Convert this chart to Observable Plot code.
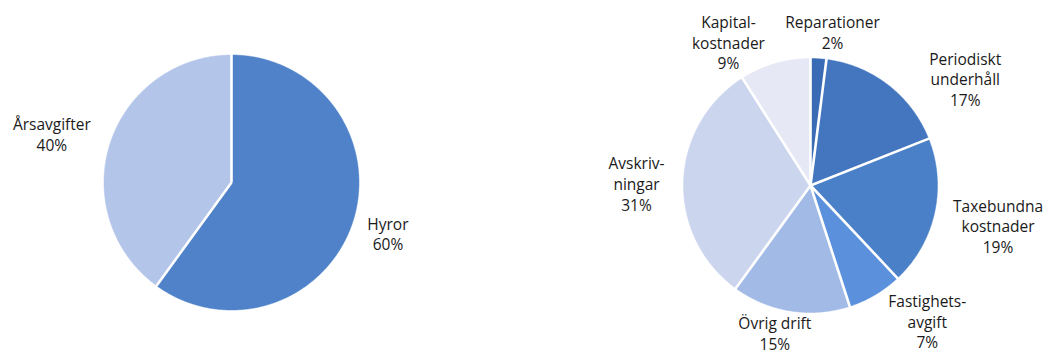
<!DOCTYPE html>
<html>
<head>
<meta charset="utf-8">
<script src="https://cdn.jsdelivr.net/npm/d3@7"></script>
<script src="https://cdn.jsdelivr.net/npm/@observablehq/plot@0.6"></script>
<style>
  html, body { margin: 0; padding: 0; background: #fff; }
  #chart svg { display: block; }
</style>
</head>
<body>
<div id="chart"></div>
<script>
// ---- Data ----
const incomeCategories = ["Hyror", "Årsavgifter"];
const incomeLabels = ["Hyror\n60%", "Årsavgifter\n40%"];
const incomeValues = [60, 40];
const incomeColors = ["#4f82c8", "#b4c5ea"];

const costCategories = ["Reparationer", "Periodiskt underhåll", "Taxebundna kostnader", "Fastighetsavgift", "Övrig drift", "Avskrivningar", "Kapitalkostnader"];
const costLabels = ["Reparationer\n2%", "Periodiskt\nunderhåll\n17%", "Taxebundna\nkostnader\n19%", "Fastighets-\navgift\n7%", "Övrig drift\n15%", "Avskriv-\nningar\n31%", "Kapital-\nkostnader\n9%"];
const costValues = [2, 17, 19, 7, 15, 31, 9];
const costColors = ["#3a6cb6", "#4476bf", "#4a80c8", "#5a90dc", "#a2bae6", "#cbd5ee", "#e6e9f5"];

// ---- Layout (label placement: angle in degrees clockwise from top, distance in radii) ----
const W = 1045, H = 356;
const pies = [
  {cx: 231, cy: 182, r: 127.5, cats: incomeCategories, labels: incomeLabels, values: incomeValues, colors: incomeColors,
   labelPos: [[108, 1.29], [285.2, 1.46]]},
  {cx: 810, cy: 185, r: 127, cats: costCategories, labels: costLabels, values: costValues, colors: costColors,
   labelPos: [[8.2, 1.22], [55.4, 1.48], [102.1, 1.51], [139.3, 1.41], [193.6, 1.195], [270.7, 1.37], [330.2, 1.30]]}
];

const polyPts = [], seps = [], labelRows = [];
const domain = [], range = [];
for (const p of pies) {
  const arcs = d3.pie().sort(null).value(d => d)(p.values);
  arcs.forEach((a, i) => {
    const name = p.cats[i];
    domain.push(name); range.push(p.colors[i]);
    polyPts.push({name, x: p.cx, y: p.cy});
    const n = Math.max(2, Math.ceil((a.endAngle - a.startAngle) / 0.01));
    for (let k = 0; k <= n; k++) {
      const t = a.startAngle + (a.endAngle - a.startAngle) * k / n;
      polyPts.push({name, x: p.cx + p.r * Math.sin(t), y: p.cy - p.r * Math.cos(t)});
    }
    polyPts.push({name, x: p.cx, y: p.cy});
    seps.push({x1: p.cx, y1: p.cy, x2: p.cx + (p.r + 1) * Math.sin(a.startAngle), y2: p.cy - (p.r + 1) * Math.cos(a.startAngle)});
    const [ang, f] = p.labelPos[i];
    const rad = ang * Math.PI / 180;
    labelRows.push({text: p.labels[i], x: p.cx + f * p.r * Math.sin(rad), y: p.cy - f * p.r * Math.cos(rad)});
  });
}

const chart = Plot.plot({
  width: W, height: H,
  margin: 0,
  x: {domain: [0, W], range: [0, W], axis: null},
  y: {domain: [0, H], range: [0, H], axis: null},
  color: {domain, range},
  style: {background: "#fff", fontFamily: "'Open Sans', 'Noto Sans', sans-serif"},
  marks: [
    Plot.line(polyPts, {x: "x", y: "y", z: "name", fill: "name", stroke: "name", strokeWidth: 0.5, curve: "linear"}),
    Plot.link(seps, {x1: "x1", y1: "y1", x2: "x2", y2: "y2", stroke: "#fff", strokeWidth: 2.6}),
    Plot.text(labelRows, {x: "x", y: "y", text: "text", fontSize: 15.5, lineHeight: 1.33, fill: "#1a1a1a", textAnchor: "middle", lineAnchor: "middle"})
  ]
});
document.getElementById("chart").append(chart);
</script>
</body>
</html>
